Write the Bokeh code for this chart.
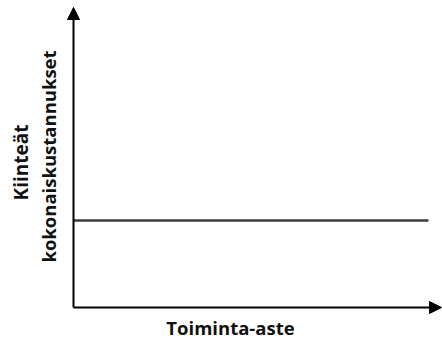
from bokeh.plotting import figure
from bokeh.models import Range1d, Arrow, NormalHead, Label
from bokeh.embed import file_html
from bokeh.resources import INLINE
import math

# Data (conceptual chart): activity level vs fixed total costs
activity_level = [0, 355]
fixed_costs = [87, 87]
x_axis_end = 368
y_axis_end = 300
x_label = "Toiminta-aste"
y_label_lines = ["Kiinteät", "kokonaiskustannukset"]

p = figure(width=442, height=340, output_backend="svg", toolbar_location=None,
           x_range=Range1d(-73, 369), y_range=Range1d(-33, 307),
           min_border=0, min_border_left=0, min_border_right=0,
           min_border_top=0, min_border_bottom=0)
p.axis.visible = False
p.grid.visible = False
p.outline_line_color = None
p.background_fill_color = "white"
p.border_fill_color = "white"

# Fixed costs line
p.line(activity_level, fixed_costs, line_color="#3c3c3c", line_width=2.5)

# Axes with arrow heads
p.add_layout(Arrow(x_start=0, y_start=0, x_end=0, y_end=y_axis_end,
                   line_color="black", line_width=2,
                   end=NormalHead(size=12, fill_color="black", line_color="black")))
p.add_layout(Arrow(x_start=0, y_start=0, x_end=x_axis_end, y_end=0,
                   line_color="black", line_width=2,
                   end=NormalHead(size=12, fill_color="black", line_color="black")))

font = "Open Sans"
p.add_layout(Label(x=157, y=-20, text=x_label, text_font=font, text_font_style="bold",
                   text_font_size="18.5px", text_align="center", text_baseline="middle",
                   text_color="#111111"))
p.add_layout(Label(x=-53, y=145, text=y_label_lines[0], angle=math.pi / 2,
                   text_font=font, text_font_style="bold", text_font_size="19px",
                   text_align="center", text_baseline="middle", text_color="#111111"))
p.add_layout(Label(x=-25, y=151, text=y_label_lines[1], angle=math.pi / 2,
                   text_font=font, text_font_style="bold", text_font_size="18.5px",
                   text_align="center", text_baseline="middle", text_color="#111111"))

open("out.html", "w").write(file_html(p, INLINE))
